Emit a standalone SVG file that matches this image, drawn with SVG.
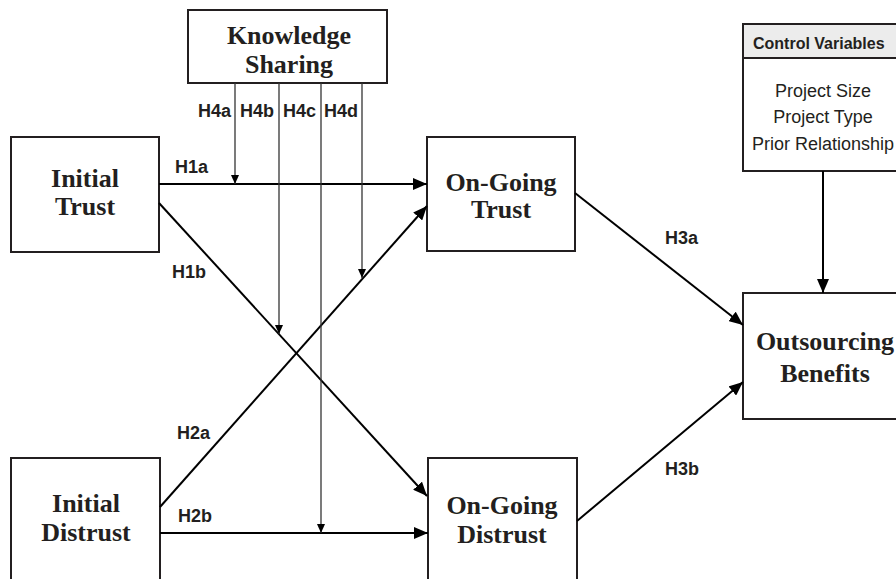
<svg xmlns="http://www.w3.org/2000/svg" width="896" height="579" viewBox="0 0 896 579">
<style>
.box{fill:#fff;stroke:#231f20;stroke-width:2}
.node{font-family:"Liberation Serif","Times New Roman",serif;font-weight:bold;font-size:26px;fill:#231f20;text-anchor:middle}
.hl{font-family:"Liberation Sans",Arial,sans-serif;font-weight:bold;font-size:18px;fill:#231f20}
.cv{font-family:"Liberation Sans",Arial,sans-serif;font-size:18px;fill:#231f20;text-anchor:middle}
.cvh{font-family:"Liberation Sans",Arial,sans-serif;font-weight:bold;font-size:16px;fill:#231f20}
.main{stroke:#000;stroke-width:2;fill:none;marker-end:url(#big)}
.moda{stroke:#333;stroke-width:1.3;fill:none;marker-end:url(#small)}
</style>
<defs>
<marker id="big" markerUnits="userSpaceOnUse" markerWidth="16" markerHeight="12" refX="14" refY="6" orient="auto">
<path d="M0,0 L14,6 L0,12 Z" fill="#000"/>
</marker>
<marker id="small" markerUnits="userSpaceOnUse" markerWidth="10" markerHeight="8" refX="9" refY="4" orient="auto">
<path d="M0,0 L9,4 L0,8 Z" fill="#000"/>
</marker>
</defs>
<rect width="896" height="579" fill="#fff"/>

<g id="knowledge-sharing">
<rect class="box" x="188" y="10" width="199" height="73"/>
<text class="node" x="289" y="44">Knowledge</text>
<text class="node" x="289" y="73">Sharing</text>
</g>

<g id="initial-trust">
<rect class="box" x="11" y="137" width="148" height="115"/>
<text class="node" x="85" y="187">Initial</text>
<text class="node" x="85" y="215">Trust</text>
</g>

<g id="ongoing-trust">
<rect class="box" x="427" y="137" width="148" height="114"/>
<text class="node" x="501" y="191">On-Going</text>
<text class="node" x="501" y="218">Trust</text>
</g>

<g id="initial-distrust">
<rect class="box" x="11" y="458" width="149" height="140"/>
<text class="node" x="86" y="512">Initial</text>
<text class="node" x="86" y="541">Distrust</text>
</g>

<g id="ongoing-distrust">
<rect class="box" x="428" y="458" width="149" height="140"/>
<text class="node" x="502" y="514">On-Going</text>
<text class="node" x="502" y="543">Distrust</text>
</g>

<g id="control-variables">
<rect class="box" x="743" y="24" width="162" height="147"/>
<rect x="744" y="25" width="160" height="33" fill="#ececec"/>
<line x1="743" y1="58" x2="905" y2="58" stroke="#231f20" stroke-width="2"/>
<text class="cvh" x="753" y="49">Control Variables</text>
<text class="cv" x="823" y="97">Project Size</text>
<text class="cv" x="823" y="123">Project Type</text>
<text class="cv" x="823" y="150">Prior Relationship</text>
</g>

<g id="outsourcing-benefits">
<rect class="box" x="743" y="293" width="164" height="126"/>
<text class="node" x="825" y="350">Outsourcing</text>
<text class="node" x="825" y="382">Benefits</text>
</g>

<g id="connectors">
<line class="main" x1="159" y1="184" x2="427" y2="184"/>
<line class="main" x1="159" y1="203" x2="427" y2="496"/>
<line class="main" x1="160" y1="507" x2="427" y2="206"/>
<line class="main" x1="160" y1="533" x2="428" y2="533"/>
<line class="main" x1="575" y1="193" x2="743" y2="325"/>
<line class="main" x1="577" y1="521" x2="743" y2="382"/>
<line class="main" x1="823" y1="171" x2="823" y2="293"/>
<line class="moda" x1="235" y1="83" x2="235" y2="184"/>
<line class="moda" x1="279" y1="83" x2="279" y2="334"/>
<line class="moda" x1="321" y1="83" x2="321" y2="533"/>
<line class="moda" x1="362" y1="83" x2="362" y2="278"/>
</g>

<g id="labels">
<text class="hl" x="198" y="117">H4a</text>
<text class="hl" x="240" y="117">H4b</text>
<text class="hl" x="283" y="117">H4c</text>
<text class="hl" x="324" y="117">H4d</text>
<text class="hl" x="175" y="173">H1a</text>
<text class="hl" x="172" y="278">H1b</text>
<text class="hl" x="177" y="439">H2a</text>
<text class="hl" x="178" y="522">H2b</text>
<text class="hl" x="665" y="244">H3a</text>
<text class="hl" x="665" y="475">H3b</text>
</g>
</svg>
